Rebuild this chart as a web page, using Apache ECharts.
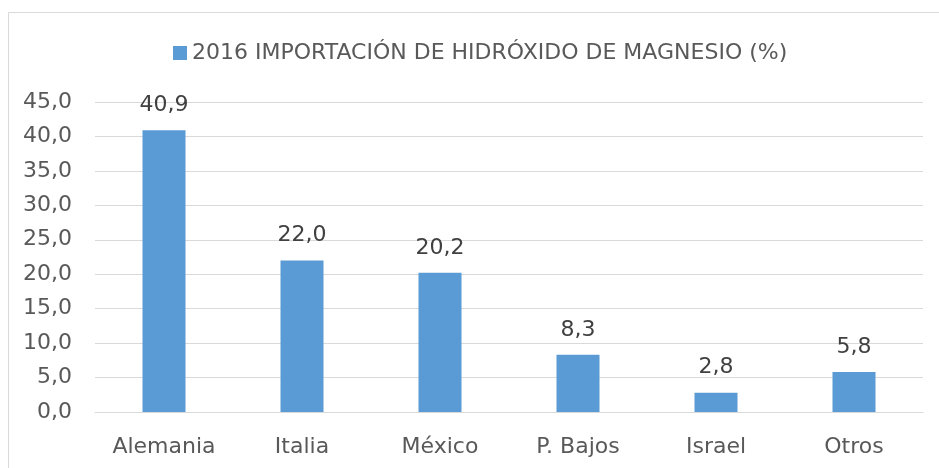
<!DOCTYPE html>
<html>
<head>
<meta charset="utf-8">
<script src="https://cdn.jsdelivr.net/npm/echarts@6/dist/echarts.min.js"></script>
<style>
  html, body { margin: 0; padding: 0; background: #fff; }
  #chart { width: 939px; height: 468px; }
</style>
</head>
<body>
<div id="chart"></div>
<script>
const categories = ['Alemania', 'Italia', 'México', 'P. Bajos', 'Israel', 'Otros'];
const values = [40.9, 22.0, 20.2, 8.3, 2.8, 5.8];
const seriesName = '2016 IMPORTACIÓN DE HIDRÓXIDO DE MAGNESIO (%)';

const fmt = v => v.toFixed(1).replace('.', ',');
const font = 'DejaVu Sans';
const textColor = '#595959';

const chart = echarts.init(document.getElementById('chart'));
chart.setOption({
  backgroundColor: '#fff',
  animation: false,
  graphic: [{
    type: 'rect',
    shape: { x: 8.5, y: 12.5, width: 1000, height: 1000 },
    style: { fill: 'none', stroke: '#d9d9d9', lineWidth: 1 },
    silent: true
  }],
  legend: {
    top: 37,
    left: 168,
    itemWidth: 14,
    itemHeight: 14,
    itemGap: 5,
    icon: 'rect',
    textStyle: { color: textColor, fontSize: 22, fontFamily: font }
  },
  grid: { left: 95, right: 16, top: 102, bottom: 56 },
  xAxis: {
    type: 'category',
    data: categories,
    axisTick: { show: false },
    axisLine: { lineStyle: { color: '#d9d9d9', width: 1 } },
    axisLabel: { color: textColor, fontSize: 22, fontFamily: font, margin: 24 }
  },
  yAxis: {
    type: 'value',
    min: 0,
    max: 45,
    interval: 5,
    axisLine: { show: false },
    axisTick: { show: false },
    splitLine: { lineStyle: { color: '#d9d9d9', width: 1 } },
    axisLabel: { color: textColor, fontSize: 22, fontFamily: font, margin: 23, formatter: fmt }
  },
  series: [{
    name: seriesName,
    type: 'bar',
    data: values,
    barWidth: 43,
    itemStyle: { color: '#5b9bd5' },
    label: {
      show: true,
      position: 'top',
      distance: 14,
      color: '#404040',
      fontSize: 22,
      fontFamily: font,
      formatter: p => fmt(p.value)
    }
  }]
});
</script>
</body>
</html>
